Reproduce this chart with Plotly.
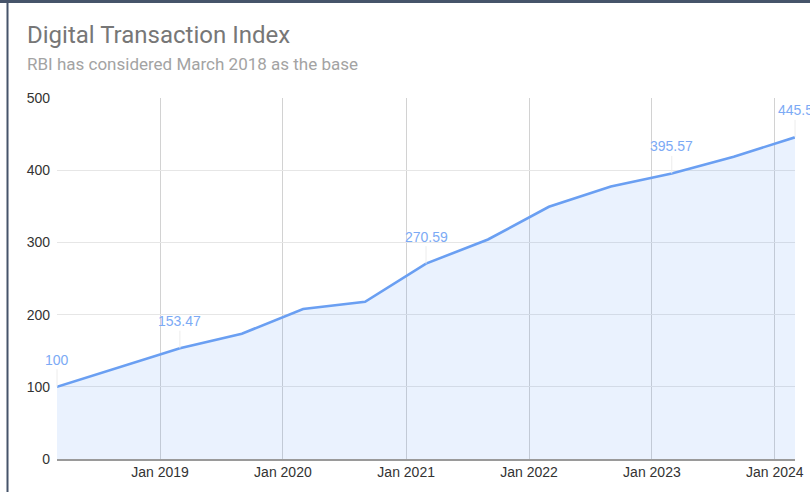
import plotly.graph_objects as go

# ---- data ----
dates = ["2018-03-01", "2018-09-01", "2019-03-01", "2019-09-01", "2020-03-01",
         "2020-09-01", "2021-03-01", "2021-09-01", "2022-03-01", "2022-09-01",
         "2023-03-01", "2023-09-01", "2024-03-01"]
values = [100, 126.7, 153.47, 173.49, 207.84, 217.74, 270.59, 304.06, 349.30,
          377.46, 395.57, 418.77, 445.5]
label_idx = [0, 2, 6, 10, 12]
label_text = ["100", "153.47", "270.59", "395.57", "445.5"]
tick_vals = ["2019-01-01", "2020-01-01", "2021-01-01", "2022-01-01",
             "2023-01-01", "2024-01-01"]
tick_text = ["Jan 2019", "Jan 2020", "Jan 2021", "Jan 2022", "Jan 2023", "Jan 2024"]
y_ticks = [0, 100, 200, 300, 400, 500]

W, H = 810, 492
ML, MR, MT, MB = 57, 15, 98, 33
PW, PH = W - ML - MR, H - MT - MB


def px(xp):
    return (xp - ML) / PW


def py(yp):
    return (H - MB - yp) / PH


LINE = "#6a9ff2"
FILL = "rgba(66,133,244,0.11)"
LBL = "#7caaf5"
TICKFONT = dict(family="Liberation Sans, Arial, sans-serif", size=14, color="#333333")

fig = go.Figure()
fig.add_trace(go.Scatter(
    x=dates, y=values, mode="lines", fill="tozeroy",
    line=dict(color=LINE, width=2.6), fillcolor=FILL, hoverinfo="x+y",
    showlegend=False,
))

annotations = []
for i, t in zip(label_idx, label_text):
    annotations.append(dict(
        x=dates[i], y=values[i], xref="x", yref="y", text=t,
        showarrow=True, ax=0, ay=-27, arrowhead=0, arrowwidth=1,
        arrowcolor="#ececec", standoff=0,
        font=dict(family="Liberation Sans, Arial, sans-serif", size=14, color=LBL),
    ))

annotations.append(dict(
    xref="paper", yref="paper", x=px(25), y=py(44), xanchor="left", yanchor="bottom",
    text="Digital Transaction Index", showarrow=False, yshift=-7,
    font=dict(family="Roboto, Arial, sans-serif", size=24, color="#777777"),
))
annotations.append(dict(
    xref="paper", yref="paper", x=px(25), y=py(72), xanchor="left", yanchor="bottom",
    text="RBI has considered March 2018 as the base", showarrow=False, yshift=-4,
    font=dict(family="Roboto, Arial, sans-serif", size=17, color="#a3a3a3"),
))

shapes = [
    dict(type="line", xref="paper", yref="paper", x0=px(0), x1=px(W), y0=py(1.5), y1=py(1.5),
         line=dict(color="#46546a", width=3)),
    dict(type="line", xref="paper", yref="paper", x0=px(7.5), x1=px(7.5), y0=py(0), y1=py(H),
         line=dict(color="#46546a", width=2)),
]

fig.update_layout(
    width=W, height=H,
    margin=dict(l=ML, r=MR, t=MT, b=MB, pad=0, autoexpand=False),
    paper_bgcolor="white", plot_bgcolor="white",
    annotations=annotations, shapes=shapes,
    xaxis=dict(
        type="date", range=["2018-03-01", "2024-03-01"],
        tickmode="array", tickvals=tick_vals, ticktext=tick_text,
        showgrid=True, gridcolor="#d2d2d2", gridwidth=1,
        showline=True, linecolor="#9a9a9a", linewidth=2,
        ticks="", tickfont=TICKFONT, ticklabelstandoff=-1,
        zeroline=False, fixedrange=True, automargin=False,
    ),
    yaxis=dict(
        range=[0, 500], tickmode="array", tickvals=y_ticks,
        showgrid=True, gridcolor="#e6e6e6", gridwidth=1.2,
        zeroline=False, ticks="", tickfont=TICKFONT, ticklabelstandoff=6,
        fixedrange=True, automargin=False,
    ),
)

fig.write_html(
    "out.html",
    config={"displayModeBar": False},
    post_script="document.body.style.margin='0';document.body.style.overflow='hidden';",
)
